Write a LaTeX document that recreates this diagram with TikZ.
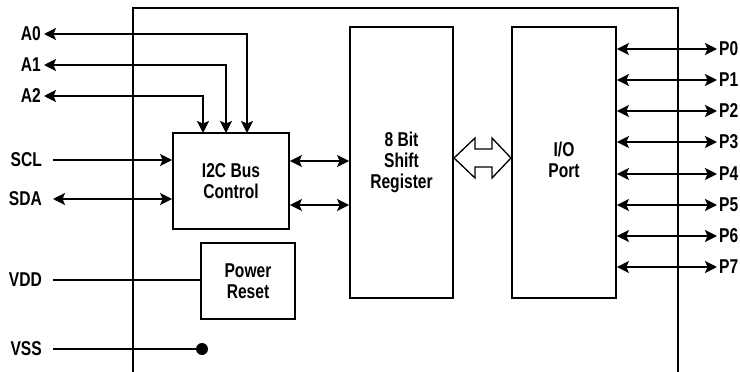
\documentclass[tikz,border=0pt]{standalone}
\usepackage{fontspec}
\setmainfont{Liberation Sans}[FakeStretch=0.78]
\usetikzlibrary{arrows.meta}
\begin{document}
\begin{tikzpicture}[x=1pt,y=-1pt,
  wire/.style={line width=1.8pt},
  blk/.style={draw,line width=1.8pt,inner sep=0pt},
  txt/.style={font=\fontsize{20}{21}\selectfont\bfseries,align=center},
  lbl/.style={font=\fontsize{20}{21}\selectfont\bfseries,inner sep=0pt},
  >={Stealth[length=12pt,width=12pt,inset=2.5pt]}]
\useasboundingbox (0,0) rectangle (740,372);
% outer chip outline
\draw[wire] (133,372) -- (133,8) -- (678,8) -- (678,372);
% blocks
\node[blk,minimum width=116pt,minimum height=96pt] (i2c) at (231,181) {};
\node[txt] (i2ct) at (i2c.center) {I2C Bus\\Control};
\node[blk,minimum width=103pt,minimum height=271pt] (reg) at (401.5,162.5) {};
\node[txt] (regt) at (reg.center) {8 Bit\\Shift\\Register};
\node[blk,minimum width=104pt,minimum height=271pt] (io) at (564,162.5) {};
\node[txt] (iot) at ([yshift=3pt]io.center) {I/O\\Port};
\node[blk,minimum width=94pt,minimum height=76pt] (pwr) at (248,281) {};
\node[txt] (pwrt) at (pwr.center) {Power\\Reset};
% left labels
\node[lbl,anchor=east] (A0) at (41,34) {A0};
\node[lbl,anchor=east] (A1) at (41,65) {A1};
\node[lbl,anchor=east] (A2) at (41,96) {A2};
\node[lbl,anchor=east] (SCL) at (42,160) {SCL};
\node[lbl,anchor=east] (SDA) at (42,199) {SDA};
\node[lbl,anchor=east] (VDD) at (42,280) {VDD};
\node[lbl,anchor=east] (VSS) at (42,349) {VSS};
% address lines
\draw[wire,<->] ([xshift=3pt]A0.east) -- (247,34) -- (247,133);
\draw[wire,<->] ([xshift=3pt]A1.east) -- (226,65) -- (226,133);
\draw[wire,<->] ([xshift=3pt]A2.east) -- (203,96) -- (203,133);
% SCL / SDA
\draw[wire,->] ([xshift=11pt]SCL.east) -- (SCL.east -| i2c.west);
\draw[wire,<->] ([xshift=11pt]SDA.east) -- (SDA.east -| i2c.west);
% I2C to register
\draw[wire,<->] (i2c.east |- 0,161) -- (reg.west |- 0,161);
\draw[wire,<->] (i2c.east |- 0,205) -- (reg.west |- 0,205);
% power
\draw[wire] ([xshift=11pt]VDD.east) -- (VDD.east -| pwr.west);
\coordinate (dot) at (202,349);
\draw[wire] ([xshift=11pt]VSS.east) -- (dot);
\fill (dot) circle (6pt);
% hollow bus arrow
\draw[line width=1.3pt,line join=miter] (454,158) -- (475,138) -- (475,149) -- (492,149) -- (492,138) -- (511,158) -- (492,178) -- (492,167) -- (475,167) -- (475,178) -- cycle;
% port lines
\foreach \i/\yy in {0/49,1/80,2/111,3/142,4/174,5/205,6/236,7/267}{
  \node[lbl,anchor=west] (P\i) at (719,\yy) {P\i};
  \draw[wire,<->] (io.east |- 0,\yy) -- ([xshift=-2pt]P\i.west);
}
\end{tikzpicture}
\end{document}
